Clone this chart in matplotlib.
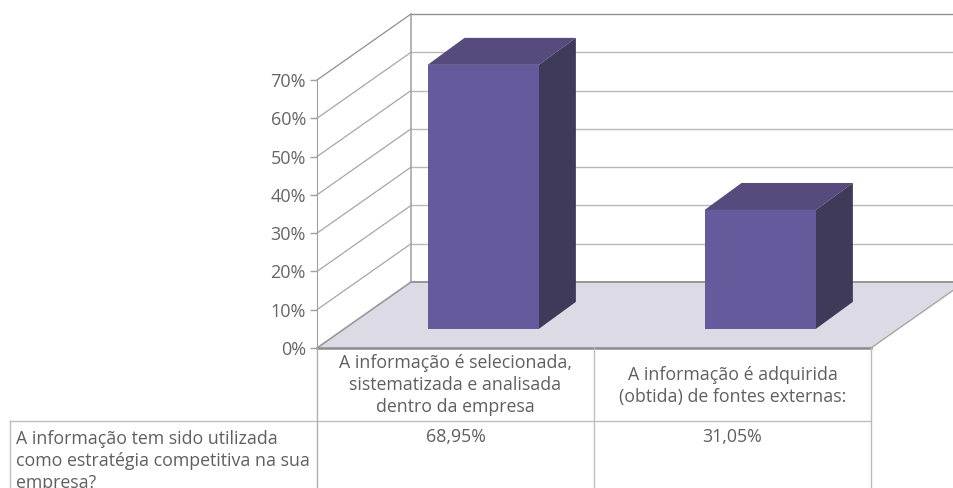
#!/usr/bin/env python3
import matplotlib
matplotlib.use("Agg")
import matplotlib.pyplot as plt
from matplotlib.patches import Polygon

categories = [
    "A informação é selecionada,\nsistematizada e analisada\ndentro da empresa",
    "A informação é adquirida\n(obtida) de fontes externas:",
]
values = [68.95, 31.05]
value_labels = ["68,95%", "31,05%"]
row_label = "A informação tem sido utilizada\ncomo estratégia competitiva na sua\nempresa?"
y_ticks = [0, 10, 20, 30, 40, 50, 60, 70]

W, H = 954, 488
# front plane of the 3d box, in pixels
LEFT, RIGHT, BASE, TOP = 317, 871, 348, 80
# wall depth in data units (x = category, y = percent)
DEPTH_X = 94 / 277
DEPTH_Y = 66 / (268 / 70)
BAR_W = 0.402
BAR_LIFT = 5.0
BAR_DX = 37 / 277
BAR_DY = 27 / (268 / 70)

TEXT = "#5f5f5f"
plt.rcParams["font.family"] = ["Open Sans", "DejaVu Sans"]

fig = plt.figure(figsize=(W / 100, H / 100), dpi=100)
ax = fig.add_axes([LEFT / W, 1 - BASE / H, (RIGHT - LEFT) / W, (BASE - TOP) / H])
ax.set_xlim(0, 2)
ax.set_ylim(0, 70)
ax.patch.set_alpha(0)
for s in ["top", "right", "bottom"]:
    ax.spines[s].set_visible(False)
ax.spines["left"].set_color("#A0A0A0")
ax.set_xticks([])
ax.set_yticks(y_ticks)
ax.set_yticklabels([f"{t}%" for t in y_ticks], fontsize=13, color="#666666")
ax.tick_params(axis="y", length=5, width=1, color="#A0A0A0", pad=3)

far_right = 2 + DEPTH_X

# floor
ax.add_patch(Polygon([(0, 0), (2, 0), (far_right, DEPTH_Y), (DEPTH_X, DEPTH_Y)],
                     closed=True, fc="#DCDAE4", ec="none", clip_on=False, zorder=1))
ax.plot([2, far_right], [0, DEPTH_Y], color="#A6A6A6", lw=1, clip_on=False, zorder=1.5)
ax.plot([0, DEPTH_X], [0, DEPTH_Y], color="#999999", lw=1.2, clip_on=False, zorder=1.5)

# walls
for t in y_ticks:
    ax.plot([DEPTH_X, far_right], [t + DEPTH_Y, t + DEPTH_Y], clip_on=False, zorder=1.5,
            color="#8F8F8F" if t in (0, 70) else "#B8B8B8", lw=1.3 if t == 0 else 1.0)
    if t > 0:
        ax.plot([0, DEPTH_X], [t, t + DEPTH_Y], clip_on=False, zorder=1.5,
                color="#8F8F8F" if t == 70 else "#A6A6A6", lw=0.9)
ax.plot([DEPTH_X, DEPTH_X], [DEPTH_Y, 70 + DEPTH_Y], color="#A0A0A0", lw=1.1,
        clip_on=False, zorder=1.6)
ax.plot([0, 2], [0, 0], color="#8C8C8C", lw=1.8, clip_on=False, zorder=2)

# bars
for i, v in enumerate(values):
    x0 = i + 0.6 - BAR_W / 2
    x1 = x0 + BAR_W
    b = BAR_LIFT
    ax.bar(x0, v, width=BAR_W, bottom=b, align="edge", color="#645A9C", zorder=4, clip_on=False)
    ax.add_patch(Polygon([(x0, b + v), (x1, b + v), (x1 + BAR_DX, b + v + BAR_DY), (x0 + BAR_DX, b + v + BAR_DY)],
                         closed=True, fc="#564B7C", ec="none", zorder=3, clip_on=False))
    ax.add_patch(Polygon([(x1, b), (x1 + BAR_DX, b + BAR_DY), (x1 + BAR_DX, b + v + BAR_DY), (x1, b + v)],
                         closed=True, fc="#3F3A5A", ec="none", zorder=3, clip_on=False))


def px_line(xs, ys, color="#BDBDBD", lw=1.0):
    fig.add_artist(plt.Line2D([x / W for x in xs], [1 - y / H for y in ys], color=color, lw=lw))


# data table
px_line([10, RIGHT], [421, 421])
px_line([10, 10], [421, H])
px_line([LEFT, LEFT], [BASE, H], color="#B0B0B0")
px_line([594, 594], [BASE, H])
px_line([RIGHT, RIGHT], [BASE, H])

FS = 12.8
LS = 1.32
cat_y = [385, 386]
for i, (c, yc) in enumerate(zip(categories, cat_y)):
    x = LEFT + (i + 0.5) * (RIGHT - LEFT) / 2
    fig.text(x / W, 1 - yc / H, c, ha="center", va="center", fontsize=FS,
             color=TEXT, linespacing=LS)
    fig.text(x / W, 1 - 437 / H, value_labels[i], ha="center", va="center",
             fontsize=FS, color=TEXT)
fig.text(16 / W, 1 - 461 / H, row_label, ha="left", va="center", fontsize=FS,
         color=TEXT, linespacing=LS)

fig.savefig("out.png", dpi=100)
